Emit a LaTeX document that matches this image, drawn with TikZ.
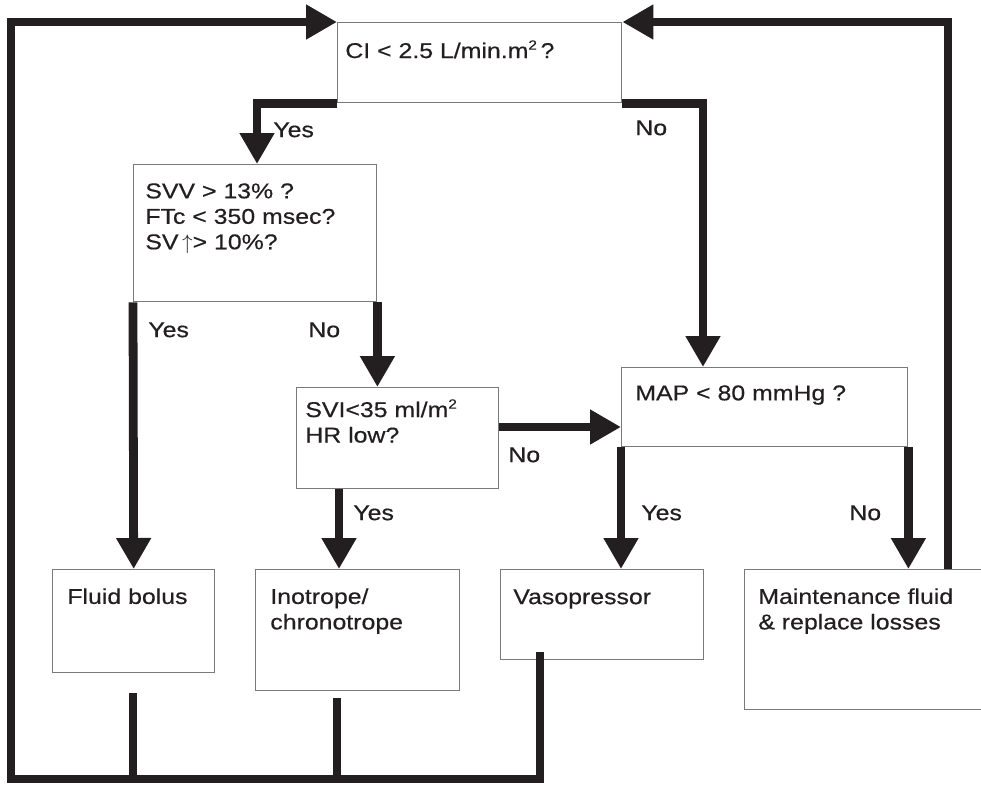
\documentclass[tikz,border=0pt]{standalone}
\usepackage{fontspec}
\setmainfont{Liberation Sans}[FakeStretch=1.16,FakeBold=0.5]
\usetikzlibrary{arrows.meta}
\definecolor{boxline}{HTML}{7A7A7A}
\definecolor{ink}{HTML}{231F20}
\newcommand{\sqr}{\raisebox{0.75ex}{\fontsize{7.5}{8}\selectfont 2}}

\begin{document}
\begin{tikzpicture}[
    x=0.02cm, y=-0.02cm,
    box/.style 2 args={draw=boxline,line width=0.8pt,anchor=north west,
      inner sep=0pt,minimum width=#1*0.02cm,minimum height=#2*0.02cm},
    txt/.style={anchor=north west,inner sep=0pt,align=left,text=ink,
      font=\fontsize{12.2}{14.5}\selectfont},
    flow/.style={-{Triangle[length=0.62cm,width=0.66cm]},draw=ink,line width=5pt},
    rail/.style={draw=ink,line width=5pt}
  ]
    \useasboundingbox (0,0) rectangle (981,785);

    % boxes
    \node[box={284}{80}] (ci) at (337,22) {};
    \node[box={243}{137}] (svv) at (133,164) {};
    \node[box={202}{101}] (svi) at (296,387) {};
    \node[box={286}{79}] (map) at (621,367) {};
    \node[box={162}{103}] (fluid) at (52,569) {};
    \node[box={204}{121}] (ino) at (255,569) {};
    \node[box={203}{90}] (vaso) at (500,569) {};
    \node[box={260}{140}] (maint) at (744,569) {};

    % box texts
    \node[txt] (ci-t) at ([shift={(8,18)}]ci.north west)
      {CI < 2.5 L/min.m\sqr\,?};
    \node[txt] (svv-t) at ([shift={(12,19)}]svv.north west)
      {SVV > 13\% ?\\FTc < 350 msec?\\SV\,$\uparrow$> 10\%?};
    \node[txt] (svi-t) at ([shift={(9,12)}]svi.north west)
      {SVI<35 ml/m\sqr\\HR low?};
    \node[txt] (map-t) at ([shift={(14,18)}]map.north west) {MAP < 80 mmHg ?};
    \node[txt] (fluid-t) at ([shift={(15,19)}]fluid.north west) {Fluid bolus};
    \node[txt] (ino-t) at ([shift={(15,19)}]ino.north west) {Inotrope/\\chronotrope};
    \node[txt] (vaso-t) at ([shift={(13,20)}]vaso.north west) {Vasopressor};
    \node[txt] (maint-t) at ([shift={(14,19)}]maint.north west)
      {Maintenance fluid\\\& replace losses};

    % branch labels
    \node[txt] (ci-yes) at (273,122) {Yes};
    \node[txt] (ci-no) at (635,120) {No};
    \node[txt] (svv-yes) at (148,322) {Yes};
    \node[txt] (svv-no) at (308,322) {No};
    \node[txt] (svi-no) at (508,447) {No};
    \node[txt] (svi-yes) at (353,505) {Yes};
    \node[txt] (map-yes) at (641,505) {Yes};
    \node[txt] (map-no) at (849,505) {No};

    % free ends of the connectors
    \coordinate (svv-in) at (257,164);
    \coordinate (map-in) at (703,367);
    \coordinate (map-left) at (621,427);
    \coordinate (ino-in) at (339,569);
    \coordinate (fluid-out) at (133,693);
    \coordinate (ino-out) at (337,698);
    \coordinate (vaso-out) at (540,652);
    \coordinate (maint-out) at (948,569);
    \coordinate (corner) at (11,779);

    % decisions
    \draw[flow] (ci.south west) -| (svv-in);
    \draw[flow] (ci.south east) -| (map-in);
    \draw[flow] (svv.south west) -- (fluid.north);
    \draw[flow] (svv.south east) -- (svv.south east |- svi.north);
    \draw[flow] (ino-in |- svi.south) -- (ino-in);
    \draw[flow] (svi.east |- map-left) -- (map-left);
    \draw[flow] (map.south west) -- (map.south west |- vaso.north);
    \draw[flow] (map.south east) -- (map.south east |- maint.north);

    % loops back to the start
    \draw[rail] (fluid-out) -- (fluid-out |- corner);
    \draw[rail] (ino-out) -- (ino-out |- corner);
    \draw[flow] (vaso-out) |- (corner) |- (ci.north west);
    \draw[flow] (maint-out) |- (ci.north east);
  \end{tikzpicture}
\end{document}
